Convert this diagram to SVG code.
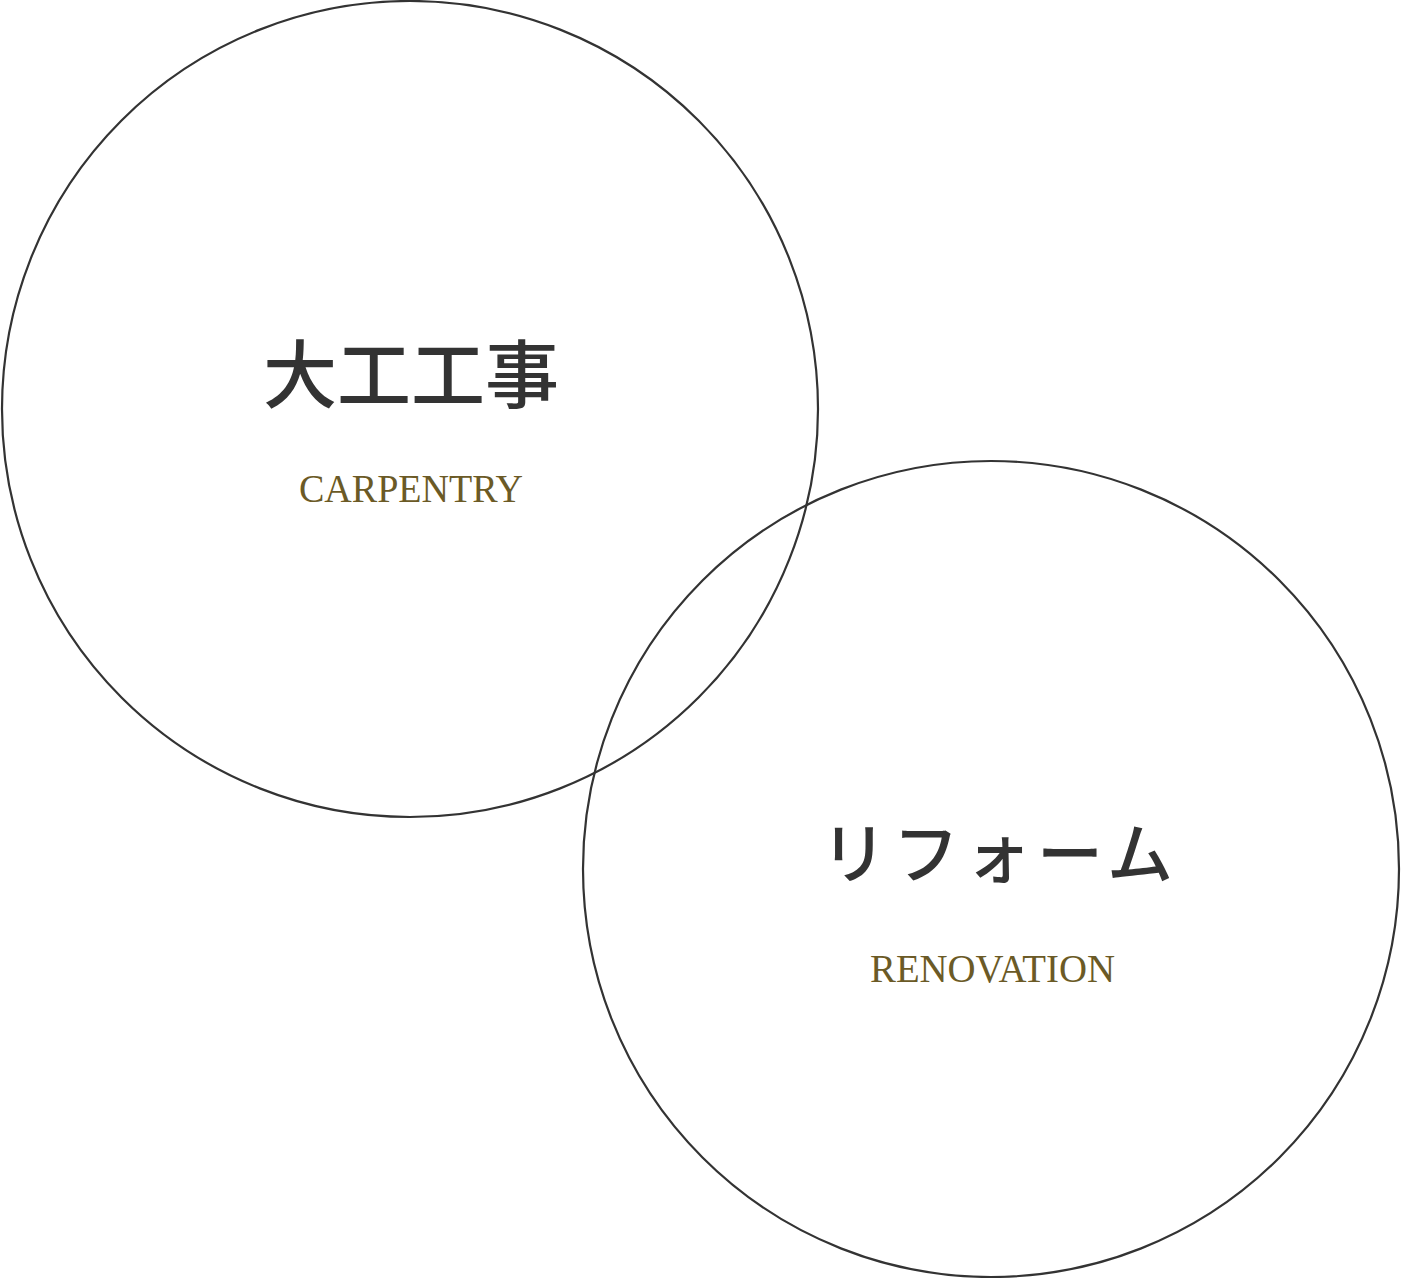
<svg xmlns="http://www.w3.org/2000/svg" width="1401" height="1278" viewBox="0 0 1401 1278">
  <style>
    .ring { fill: none; stroke: #333333; stroke-width: 2.2; }
    .jp { font-family: "Noto Sans CJK JP", "Noto Sans CJK SC", sans-serif; font-weight: 500; fill: #333333; text-anchor: middle; }
    .en { font-family: "Liberation Serif", "DejaVu Serif", serif; fill: #6b5a26; text-anchor: middle; }
  </style>
  <rect x="0" y="0" width="1401" height="1278" fill="#ffffff"/>
  <g id="node-carpentry">
    <circle class="ring" cx="410" cy="409" r="408"/>
    <text class="jp" x="411" y="402" font-size="74" textLength="296" lengthAdjust="spacing">大工工事</text>
    <text class="en" x="411" y="502" font-size="39" textLength="224" lengthAdjust="spacingAndGlyphs">CARPENTRY</text>
  </g>
  <g id="node-renovation">
    <circle class="ring" cx="991" cy="869" r="408"/>
    <text class="jp" x="997" y="878" font-size="66" textLength="352" lengthAdjust="spacing">リフォーム</text>
    <text class="en" x="992.5" y="982" font-size="39" textLength="245" lengthAdjust="spacingAndGlyphs">RENOVATION</text>
  </g>
  <g id="connectors"></g>
</svg>
